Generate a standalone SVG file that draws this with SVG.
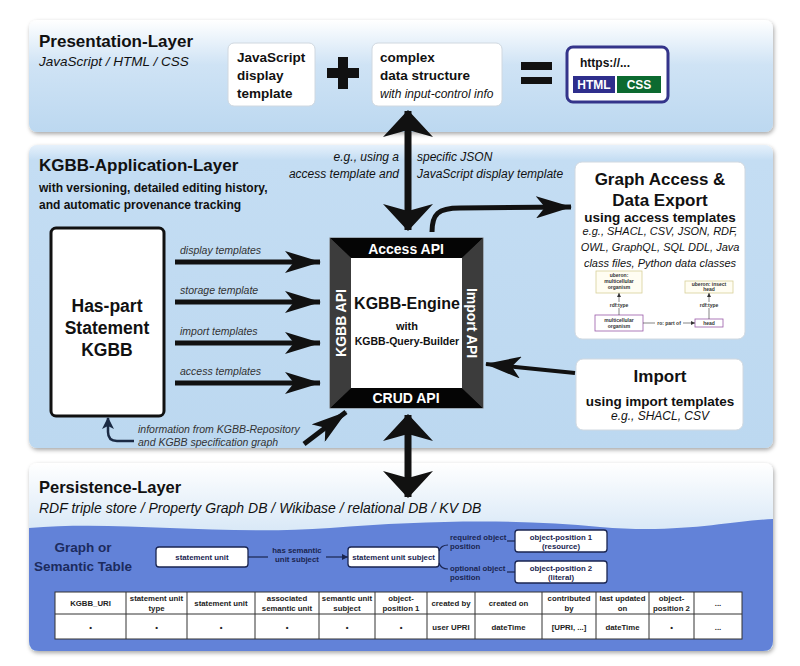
<svg xmlns="http://www.w3.org/2000/svg" width="800" height="666" viewBox="0 0 800 666">
<defs>
<style>
text{font-family:"Liberation Sans",Arial,Helvetica,sans-serif;fill:#111}
.b{font-weight:bold}
.i{font-style:italic}
.lbl{font-style:italic;font-size:10.5px;fill:#333}
.box{fill:#fff;stroke:#d0d8e0;stroke-width:1}
.th{font-weight:bold;font-size:7.8px;fill:#222;text-anchor:middle}
.gs{font-weight:bold;font-size:7.8px;fill:#1a2550}
.sb{fill:#fff;stroke:#1a2550;stroke-width:1.3}
.mini{font-size:5px;fill:#333;text-anchor:middle;font-weight:bold}
.c{text-anchor:middle}
</style>
<linearGradient id="gPres" x1="0" y1="0" x2="0" y2="1">
<stop offset="0" stop-color="#ffffff"/><stop offset="0.4" stop-color="#cfe3f5"/><stop offset="1" stop-color="#bcd8f0"/>
</linearGradient>
<linearGradient id="gApp" x1="0" y1="0" x2="0" y2="1">
<stop offset="0" stop-color="#e6f1fb"/><stop offset="0.05" stop-color="#c4ddf3"/><stop offset="1" stop-color="#bcd8f0"/>
</linearGradient>
<linearGradient id="gPers" x1="0" y1="0" x2="0" y2="1">
<stop offset="0" stop-color="#ffffff"/><stop offset="0.4" stop-color="#d5e6f6"/><stop offset="1" stop-color="#bcd8f0"/>
</linearGradient>
<filter id="sh" x="-5%" y="-5%" width="110%" height="115%">
<feDropShadow dx="1" dy="2" stdDeviation="2" flood-color="#000" flood-opacity="0.35"/>
</filter>
<marker id="ah" markerUnits="userSpaceOnUse" viewBox="0 0 36 22" markerWidth="36" markerHeight="22" refX="35" refY="11" orient="auto">
<path d="M0,0 L36,11 L0,22 L9,11 Z" fill="#111"/>
</marker>
<marker id="big" markerUnits="userSpaceOnUse" viewBox="0 0 27 50" markerWidth="27" markerHeight="50" refX="26" refY="25" orient="auto-start-reverse">
<path d="M0,0 L27,25 L0,50 L7,25 Z" fill="#111"/>
</marker>
<marker id="sm" markerUnits="userSpaceOnUse" viewBox="0 0 12 12" markerWidth="12" markerHeight="12" refX="11" refY="6" orient="auto">
<path d="M0,0 L12,6 L0,12 L3,6 Z" fill="#1b2a44"/>
</marker>
<marker id="tiny" markerUnits="userSpaceOnUse" viewBox="0 0 6 6" markerWidth="6" markerHeight="6" refX="6" refY="3" orient="auto">
<path d="M0,0 L6,3 L0,6 Z" fill="#1a2550"/>
</marker>
<marker id="mini" markerUnits="userSpaceOnUse" viewBox="0 0 4 4" markerWidth="4" markerHeight="4" refX="4" refY="2" orient="auto">
<path d="M0,0 L4,2 L0,4 Z" fill="#333"/>
</marker>
</defs>
<rect width="800" height="666" fill="#ffffff"/>

<!-- Presentation layer -->
<g id="presentation-layer">
<rect x="29" y="20" width="744" height="112" rx="8" fill="url(#gPres)" filter="url(#sh)"/>
<text x="39" y="47" class="b" font-size="17">Presentation-Layer</text>
<text x="39" y="66" class="i" font-size="13.5" fill="#333">JavaScript / HTML / CSS</text>
</g>
<g id="js-template">
<rect x="228" y="43" width="87" height="63" rx="6" class="box"/>
<text x="237" y="62" class="b" font-size="13.5">JavaScript</text>
<text x="237" y="80" class="b" font-size="13.5">display</text>
<text x="237" y="98" class="b" font-size="13.5">template</text>
</g>
<g id="plus">
<rect x="327" y="68" width="32" height="10" fill="#111"/>
<rect x="338" y="57" width="10" height="32" fill="#111"/>
</g>
<g id="data-structure">
<rect x="372" y="43" width="130" height="63" rx="6" class="box"/>
<text x="380" y="62" class="b" font-size="13.5">complex</text>
<text x="380" y="80" class="b" font-size="13.5">data structure</text>
<text x="380" y="98" class="i" font-size="12" fill="#222">with input-control info</text>
</g>
<g id="equals">
<rect x="521" y="62" width="31" height="8" fill="#111"/>
<rect x="521" y="77" width="31" height="7" fill="#111"/>
</g>
<g id="https-result">
<rect x="567" y="47" width="101" height="55" rx="6" fill="#fff" stroke="#34348a" stroke-width="3"/>
<text x="580" y="67" class="b" font-size="12">https://...</text>
<rect x="573" y="76" width="42" height="17" fill="#2e2e8c"/>
<rect x="617" y="76" width="44" height="17" fill="#0c6a30"/>
<text x="594" y="89" class="b c" font-size="12" style="fill:#fff">HTML</text>
<text x="639" y="89" class="b c" font-size="12" style="fill:#fff">CSS</text>
</g>

<!-- Application layer -->
<g id="application-layer">
<rect x="29" y="145" width="744" height="303" rx="8" fill="url(#gApp)" filter="url(#sh)"/>
<text x="39" y="171" class="b" font-size="17">KGBB-Application-Layer</text>
<text x="39" y="192" class="b" font-size="12" fill="#222">with versioning, detailed editing history,</text>
<text x="39" y="209" class="b" font-size="12" fill="#222">and automatic provenance tracking</text>
</g>
<g id="haspart-kgbb">
<rect x="51" y="228" width="113" height="188" rx="5" fill="#fff" stroke="#111" stroke-width="3"/>
<text x="107" y="312" class="b c" font-size="17.5">Has-part</text>
<text x="107" y="334" class="b c" font-size="17.5">Statement</text>
<text x="107" y="356" class="b c" font-size="17.5">KGBB</text>
</g>
<g id="kgbb-engine">
<rect x="330" y="238" width="153" height="170" fill="#3a3a3a" stroke="#777" stroke-width="1"/>
<polygon points="330,238 483,238 462,258 351,258" fill="#050505"/>
<polygon points="330,408 483,408 462,388 351,388" fill="#050505"/>
<polygon points="330,238 351,258 351,388 330,408" fill="#3c3c3c"/>
<polygon points="483,238 462,258 462,388 483,408" fill="#3c3c3c"/>
<rect x="351" y="258" width="111" height="130" fill="#fff"/>
<text x="406" y="254" class="b c" font-size="14" style="fill:#fff">Access API</text>
<text x="406" y="403" class="b c" font-size="14" style="fill:#fff">CRUD API</text>
<text transform="translate(346,323) rotate(-90)" class="b c" font-size="14" style="fill:#fff">KGBB API</text>
<text transform="translate(467,323) rotate(90)" class="b c" font-size="14" style="fill:#fff">Import API</text>
<text x="407" y="309" class="b c" font-size="16">KGBB-Engine</text>
<text x="407" y="330" class="b c" font-size="11">with</text>
<text x="407" y="345" class="b c" font-size="10.5">KGBB-Query-Builder</text>
</g>
<g id="graph-access">
<rect x="575" y="162" width="170" height="177" rx="7" class="box"/>
<text x="660" y="185" class="b c" font-size="17">Graph Access &amp;</text>
<text x="660" y="206" class="b c" font-size="17">Data Export</text>
<text x="660" y="222" class="b c" font-size="13.5">using access templates</text>
<text x="660" y="235" class="i c" font-size="11" fill="#333">e.g., SHACL, CSV, JSON, RDF,</text>
<text x="660" y="251" class="i c" font-size="11" fill="#333">OWL, GraphQL, SQL DDL, Java</text>
<text x="660" y="267" class="i c" font-size="11" fill="#333">class files, Python data classes</text>
<rect x="596" y="271" width="46" height="22" fill="#fffdf2" stroke="#d8d09a" stroke-width="0.8"/>
<text x="619" y="277" class="mini">uberon:</text>
<text x="619" y="283" class="mini">multicellular</text>
<text x="619" y="289" class="mini">organism</text>
<rect x="685" y="281" width="48" height="12" fill="#fffdf2" stroke="#d8d09a" stroke-width="0.8"/>
<text x="709" y="286" class="mini">uberon: insect</text>
<text x="709" y="291" class="mini">head</text>
<rect x="595" y="315" width="48" height="16" fill="#fff" stroke="#9a5aa8" stroke-width="0.8"/>
<text x="619" y="322" class="mini">multicellular</text>
<text x="619" y="328" class="mini">organism</text>
<rect x="695" y="319" width="28" height="8" fill="#fff" stroke="#9a5aa8" stroke-width="0.8"/>
<text x="709" y="325" class="mini">head</text>
<line x1="619" y1="315" x2="619" y2="293" stroke="#333" stroke-width="0.6" marker-end="url(#mini)"/>
<line x1="709" y1="319" x2="709" y2="293" stroke="#333" stroke-width="0.6" marker-end="url(#mini)"/>
<rect x="608" y="302" width="22" height="6" fill="#fff"/>
<text x="619" y="307" class="mini">rdf:type</text>
<rect x="698" y="302" width="22" height="6" fill="#fff"/>
<text x="709" y="307" class="mini">rdf:type</text>
<line x1="643" y1="323" x2="695" y2="323" stroke="#333" stroke-width="0.6" marker-end="url(#mini)"/>
<rect x="655" y="320" width="28" height="6" fill="#fff"/>
<text x="669" y="325" class="mini">ro: part of</text>
</g>
<g id="import">
<rect x="576" y="359" width="167" height="71" rx="7" class="box"/>
<text x="660" y="382" class="b c" font-size="17">Import</text>
<text x="660" y="406" class="b c" font-size="13.5">using import templates</text>
<text x="660" y="420" class="i c" font-size="12" fill="#333">e.g., SHACL, CSV</text>
</g>

<!-- Persistence layer -->
<g id="persistence-layer">
<rect x="29" y="463" width="744" height="188" rx="8" fill="url(#gPers)" filter="url(#sh)"/>
<path d="M29,528 C120,520 220,536 330,528 C430,520 520,519 600,527 C680,534 730,521 773,519 L773,641 Q773,651 763,651 L39,651 Q29,651 29,641 Z" fill="#6282d8"/>
<text x="39" y="493" class="b" font-size="16.5">Persistence-Layer</text>
<text x="39" y="513" class="i" font-size="14" fill="#333">RDF triple store  /  Property Graph DB  /  Wikibase /  relational DB  /  KV DB</text>
<text x="83" y="552" class="b c" font-size="13.5" style="fill:#1c2b5e">Graph or</text>
<text x="83" y="571" class="b c" font-size="13.5" style="fill:#1c2b5e">Semantic Table</text>
</g>
<g id="statement-unit">
<rect x="156" y="547" width="92" height="20" rx="3" class="sb"/>
<text x="202" y="560" class="gs c">statement unit</text>
</g>
<g id="statement-unit-subject">
<rect x="348" y="547" width="91" height="20" rx="3" class="sb"/>
<text x="393.5" y="560" class="gs c">statement unit subject</text>
</g>
<g id="object-position-1">
<rect x="515" y="530" width="92" height="22" rx="3" class="sb"/>
<text x="561" y="539.5" class="gs c">object-position 1</text>
<text x="561" y="549" class="gs c">(resource)</text>
</g>
<g id="object-position-2">
<rect x="515" y="561" width="92" height="22" rx="3" class="sb"/>
<text x="561" y="570.5" class="gs c">object-position 2</text>
<text x="561" y="580" class="gs c">(literal)</text>
</g>
<g id="semantic-table">
<rect x="55" y="592" width="687" height="47" fill="#fff" stroke="#333" stroke-width="1"/>
<line x1="55" y1="614" x2="742" y2="614" stroke="#333" stroke-width="1"/>
<path d="M126,592V639M187,592V639M255,592V639M319,592V639M375,592V639M427,592V639M475,592V639M542,592V639M596,592V639M649,592V639M694,592V639" stroke="#333" stroke-width="1"/>
<text x="90.5" y="606" class="th">KGBB_URI</text>
<text x="156.5" y="601" class="th">statement unit</text><text x="156.5" y="611" class="th">type</text>
<text x="221" y="606" class="th">statement unit</text>
<text x="287" y="601" class="th">associated</text><text x="287" y="611" class="th">semantic unit</text>
<text x="347" y="601" class="th">semantic unit</text><text x="347" y="611" class="th">subject</text>
<text x="401" y="601" class="th">object-</text><text x="401" y="611" class="th">position 1</text>
<text x="451" y="606" class="th">created by</text>
<text x="508.5" y="606" class="th">created on</text>
<text x="569" y="601" class="th">contributed</text><text x="569" y="611" class="th">by</text>
<text x="622.5" y="601" class="th">last updated</text><text x="622.5" y="611" class="th">on</text>
<text x="671.5" y="601" class="th">object-</text><text x="671.5" y="611" class="th">position 2</text>
<text x="718" y="606" class="th">...</text>
<text x="90.5" y="630" class="th">•</text>
<text x="156.5" y="630" class="th">•</text>
<text x="221" y="630" class="th">•</text>
<text x="287" y="630" class="th">•</text>
<text x="347" y="630" class="th">•</text>
<text x="401" y="630" class="th">•</text>
<text x="451" y="630" class="th">user UPRI</text>
<text x="508.5" y="630" class="th">dateTime</text>
<text x="569" y="630" class="th">[UPRI, ...]</text>
<text x="622.5" y="630" class="th">dateTime</text>
<text x="671.5" y="630" class="th">•</text>
<text x="718" y="630" class="th">...</text>
</g>

<!-- Connectors -->
<g id="connectors" fill="none" stroke="#111">
<line x1="408" y1="111" x2="408" y2="230" stroke-width="7" marker-start="url(#big)" marker-end="url(#big)"/>
<line x1="408" y1="415" x2="408" y2="497" stroke-width="7" marker-start="url(#big)" marker-end="url(#big)"/>
<line x1="175" y1="262" x2="320" y2="262" stroke-width="5" marker-end="url(#ah)"/>
<line x1="175" y1="302" x2="320" y2="302" stroke-width="5" marker-end="url(#ah)"/>
<line x1="175" y1="343" x2="320" y2="343" stroke-width="5" marker-end="url(#ah)"/>
<line x1="175" y1="383" x2="320" y2="383" stroke-width="5" marker-end="url(#ah)"/>
<path d="M432,232 C432,214 438,208 460,208 L571,207" stroke-width="5" marker-end="url(#ah)"/>
<line x1="575" y1="373" x2="486" y2="364" stroke-width="4" marker-end="url(#ah)"/>
<line x1="304" y1="444" x2="346" y2="412" stroke-width="5" marker-end="url(#ah)"/>
<path d="M134,441 L117,441 Q108,441 108,432 L108,418" stroke="#1b2a44" stroke-width="2.5" marker-end="url(#sm)"/>
<line x1="248" y1="557" x2="268" y2="557" stroke="#1a2550" stroke-width="1.2"/>
<line x1="326" y1="557" x2="348" y2="557" stroke="#1a2550" stroke-width="1.2" marker-end="url(#tiny)"/>
<path d="M439,551 Q441,545 448,545" stroke="#1a2550" stroke-width="1.2"/>
<path d="M439,563 Q441,569 448,569" stroke="#1a2550" stroke-width="1.2"/>
<line x1="507" y1="541" x2="515" y2="541" stroke="#1a2550" stroke-width="1.2"/>
<line x1="507" y1="572" x2="515" y2="572" stroke="#1a2550" stroke-width="1.2"/>
</g>
<g id="connector-labels">
<text x="180" y="254" class="lbl">display templates</text>
<text x="180" y="294" class="lbl">storage template</text>
<text x="180" y="335" class="lbl">import templates</text>
<text x="180" y="375" class="lbl">access templates</text>
<text x="138" y="433" class="lbl">information from KGBB-Repository</text>
<text x="138" y="446" class="lbl">and KGBB specification graph</text>
<text x="399" y="161" class="i" font-size="12" fill="#333" text-anchor="end">e.g., using a</text>
<text x="399" y="178" class="i" font-size="12" fill="#333" text-anchor="end">access template and</text>
<text x="417" y="161" class="i" font-size="12" fill="#333">specific JSON</text>
<text x="417" y="178" class="i" font-size="12" fill="#333">JavaScript display template</text>
<text x="297" y="553" class="gs c">has semantic</text>
<text x="297" y="562" class="gs c">unit subject</text>
<text x="450" y="540" class="gs">required object</text>
<text x="450" y="549" class="gs">position</text>
<text x="450" y="571" class="gs">optional object</text>
<text x="450" y="580" class="gs">position</text>
</g>
</svg>
